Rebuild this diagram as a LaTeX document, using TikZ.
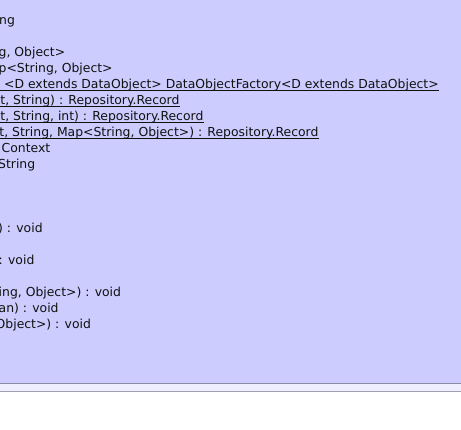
\documentclass[tikz,border=0pt]{standalone}
\usepackage{fontspec}
\setmainfont{DejaVu Sans}
\definecolor{classfill}{HTML}{CCCCFF}
\definecolor{stripfill}{HTML}{EEEEFF}
\definecolor{edgeA}{HTML}{8C8CA4}
\definecolor{edgeB}{HTML}{A0A0B4}
\definecolor{txt}{HTML}{111111}
\tikzset{
  member/.style={anchor=base west, inner sep=0pt, text=txt, font=\fontsize{12.4}{16}\selectfont},
  uline/.style={draw=txt, line width=0.9pt},
}
\begin{document}
\begin{tikzpicture}[x=1pt,y=-1pt]
\useasboundingbox (0,0) rectangle (461,429);
\fill[white] (0,0) rectangle (461,429);
\fill[classfill] (0,0) rectangle (461,383);
\fill[stripfill] (0,383) rectangle (461,391);
\draw[edgeA, line width=1pt] (0,383) -- (461,383);
\draw[edgeB, line width=1pt] (0,391) -- (461,391);
\coordinate (origin) at (0,0);
\begin{scope}
\clip (0,0) rectangle (461,383);
\node[member] (n1) at (-1,24) {ng};
\node[member] (n3) at (-1.5,56) {g, Object>};
\node[member] (n4) at (-1.5,72) {p<String, Object>};
\node[member] (n5) at (4,88) {<D extends DataObject> DataObjectFactory<D extends DataObject>};
\node[member] (n6) at (0.3,104) {t, String) : Repository.Record};
\node[member] (n7) at (0.2,120) {t, String, int) : Repository.Record};
\node[member] (n8) at (-0.8,136) {t, String, Map<String, Object>) : Repository.Record};
\node[member] (n9) at (1.5,152) {Context};
\node[member] (n10) at (-2,168) {String};
\node[member] (n14) at (-2,232) {) : void};
\node[member] (n16) at (-1.5,264) {: void};
\node[member] (n18) at (-1.5,296) {ing, Object>) : void};
\node[member] (n19) at (-1.5,312) {an) : void};
\node[member] (n20) at (-4.5,328) {Object>) : void};
\foreach \n in {n5,n6,n7,n8}{
  \coordinate (u\n) at ([yshift=-2pt]\n.base east);
  \draw[uline] (u\n -| origin) -- (u\n);
}
\end{scope}
\end{tikzpicture}
\end{document}
